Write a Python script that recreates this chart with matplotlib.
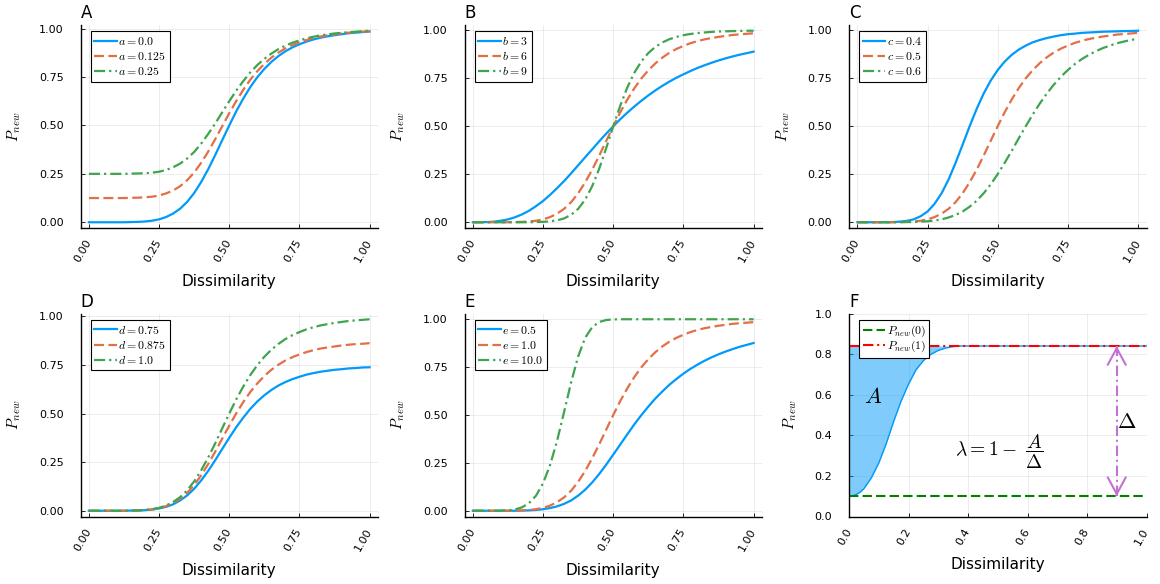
import numpy as np
import matplotlib
matplotlib.use('Agg')
import matplotlib.pyplot as plt

plt.rcParams['font.family'] = ['DejaVu Sans']
plt.rcParams['mathtext.fontset'] = 'cm'

# dissimilarity grid shared by panels A-E (step 0.025)
x_grid = np.linspace(0, 1, 41)

# the reference curve (a=0, b=6, c=0.5, d=1, e=1) appears in every panel A-E
base_curve = [0, 0, 0, 0, 0, 0, 0.001, 0.002, 0.004, 0.008, 0.015, 0.027, 0.045, 0.070, 0.105,
              0.151, 0.208, 0.274, 0.347, 0.424, 0.500, 0.573, 0.639, 0.698, 0.749, 0.792, 0.828,
              0.858, 0.883, 0.903, 0.919, 0.933, 0.944, 0.953, 0.960, 0.966, 0.971, 0.976, 0.979,
              0.982, 0.985]

a_0125 = [0.125, 0.125, 0.125, 0.125, 0.125, 0.125, 0.126, 0.127, 0.129, 0.132, 0.138, 0.149,
          0.164, 0.186, 0.217, 0.257, 0.307, 0.365, 0.429, 0.496, 0.563, 0.626, 0.684, 0.736,
          0.780, 0.818, 0.850, 0.876, 0.898, 0.915, 0.929, 0.941, 0.951, 0.959, 0.965, 0.970,
          0.975, 0.979, 0.982, 0.984, 0.987]
a_025 = [0.25, 0.25, 0.25, 0.25, 0.25, 0.25, 0.251, 0.252, 0.253, 0.256, 0.261, 0.270, 0.284,
         0.303, 0.329, 0.363, 0.406, 0.456, 0.510, 0.568, 0.625, 0.680, 0.729, 0.774, 0.812,
         0.844, 0.871, 0.894, 0.912, 0.927, 0.939, 0.950, 0.958, 0.965, 0.970, 0.975, 0.978,
         0.982, 0.984, 0.987, 0.989]

b_3 = [0, 0, 0.001, 0.003, 0.008, 0.015, 0.026, 0.041, 0.060, 0.084, 0.111, 0.143, 0.178, 0.215,
       0.255, 0.297, 0.339, 0.380, 0.422, 0.462, 0.500, 0.537, 0.571, 0.603, 0.633, 0.661, 0.687,
       0.711, 0.733, 0.753, 0.771, 0.788, 0.804, 0.818, 0.831, 0.843, 0.854, 0.864, 0.873,
       0.881, 0.889]
b_9 = [0, 0, 0, 0, 0, 0, 0, 0, 0, 0.001, 0.002, 0.005, 0.010, 0.020, 0.039, 0.070, 0.118, 0.188,
       0.279, 0.387, 0.500, 0.608, 0.702, 0.779, 0.838, 0.882, 0.914, 0.937, 0.954, 0.966,
       0.975, 0.981, 0.986, 0.989, 0.992, 0.994, 0.995, 0.996, 0.997, 0.998, 0.998]

c_04 = [0, 0, 0, 0, 0, 0.001, 0.003, 0.007, 0.015, 0.031, 0.056, 0.096, 0.151, 0.223, 0.310,
        0.404, 0.500, 0.590, 0.670, 0.737, 0.792, 0.836, 0.871, 0.898, 0.919, 0.936, 0.948,
        0.958, 0.966, 0.973, 0.978, 0.981, 0.985, 0.987, 0.989, 0.991, 0.992, 0.993, 0.994,
        0.995, 0.996]
c_06 = [0, 0, 0, 0, 0, 0, 0, 0.001, 0.001, 0.003, 0.005, 0.009, 0.015, 0.025, 0.038, 0.056,
        0.081, 0.112, 0.151, 0.197, 0.251, 0.310, 0.372, 0.437, 0.500, 0.561, 0.618, 0.670,
        0.716, 0.757, 0.792, 0.823, 0.849, 0.871, 0.890, 0.906, 0.919, 0.931, 0.940, 0.948,
        0.955]

d_075 = [0, 0, 0, 0, 0, 0, 0.001, 0.001, 0.003, 0.006, 0.012, 0.020, 0.033, 0.053, 0.079,
         0.113, 0.156, 0.205, 0.260, 0.318, 0.375, 0.430, 0.479, 0.524, 0.562, 0.594, 0.621,
         0.644, 0.662, 0.677, 0.689, 0.700, 0.708, 0.715, 0.720, 0.725, 0.728, 0.732, 0.734,
         0.737, 0.738]
d_0875 = [0, 0, 0, 0, 0, 0, 0.001, 0.002, 0.004, 0.007, 0.013, 0.024, 0.039, 0.061, 0.092,
          0.132, 0.182, 0.240, 0.304, 0.371, 0.438, 0.501, 0.559, 0.611, 0.655, 0.693, 0.725,
          0.751, 0.773, 0.790, 0.804, 0.816, 0.826, 0.834, 0.840, 0.845, 0.850, 0.854, 0.857,
          0.859, 0.862]

e_05 = [0, 0, 0, 0, 0, 0, 0, 0.001, 0.002, 0.004, 0.008, 0.014, 0.023, 0.036, 0.054, 0.079,
        0.110, 0.148, 0.192, 0.241, 0.293, 0.346, 0.399, 0.451, 0.499, 0.544, 0.586, 0.623,
        0.658, 0.688, 0.716, 0.741, 0.763, 0.783, 0.801, 0.817, 0.831, 0.844, 0.856, 0.866,
        0.876]
e_10 = [0, 0, 0, 0, 0.001, 0.002, 0.007, 0.018, 0.040, 0.079, 0.144, 0.239, 0.366, 0.517,
        0.671, 0.806, 0.903, 0.959, 0.986, 0.996, 0.999, 1, 1, 1, 1, 1, 1, 1, 1, 1, 1, 1, 1, 1,
        1, 1, 1, 1, 1, 1, 1]

# panel F
f_x = [0, 0.0125, 0.025, 0.0375, 0.05, 0.075, 0.1, 0.125, 0.15, 0.175, 0.2, 0.225, 0.25,
       0.275, 0.3, 0.325, 0.35, 0.375, 0.4, 1.0]
f_y = [0.100, 0.102, 0.109, 0.120, 0.137, 0.190, 0.263, 0.358, 0.468, 0.568, 0.652, 0.722,
       0.768, 0.799, 0.818, 0.830, 0.837, 0.840, 0.840, 0.840]
f_floor = 0.10
f_ceiling = 0.84
arrow_x = 0.9

ticks_ae = [0, 0.25, 0.5, 0.75, 1.0]
ticklabels_ae = ['0.00', '0.25', '0.50', '0.75', '1.00']
ticks_f = [0, 0.2, 0.4, 0.6, 0.8, 1.0]
ticklabels_f = ['0.0', '0.2', '0.4', '0.6', '0.8', '1.0']

panels = [
    ('A', [(base_curve, r'$a = 0.0$'), (a_0125, r'$a = 0.125$'), (a_025, r'$a = 0.25$')]),
    ('B', [(b_3, r'$b = 3$'), (base_curve, r'$b = 6$'), (b_9, r'$b = 9$')]),
    ('C', [(c_04, r'$c = 0.4$'), (base_curve, r'$c = 0.5$'), (c_06, r'$c = 0.6$')]),
    ('D', [(d_075, r'$d = 0.75$'), (d_0875, r'$d = 0.875$'), (base_curve, r'$d = 1.0$')]),
    ('E', [(e_05, r'$e = 0.5$'), (base_curve, r'$e = 1.0$'), (e_10, r'$e = 10.0$')]),
]

BLUE = '#009AFA'
ORANGE = '#E36F47'
GREEN = '#3EA44E'
PURPLE = '#C371D2'
line_styles = [
    dict(color=BLUE, ls='-'),
    dict(color=ORANGE, ls=(0, (4.5, 2))),
    dict(color=GREEN, ls=(0, (5, 1.8, 1, 1.8))),
]

W, H = 1160, 584
col_left = [80.5, 464.5, 849]
row_top = [25, 313.5]
ax_w, ax_h = 297.5, 203

fig = plt.figure(figsize=(W / 100, H / 100), dpi=100)


def make_axes(r, c):
    return fig.add_axes([col_left[c] / W, 1 - (row_top[r] + ax_h) / H, ax_w / W, ax_h / H])


def finish(ax, letter, ticks, labels, xlabel_y, ylabel_x):
    ax.spines[['top', 'right']].set_visible(False)
    for s in ('left', 'bottom'):
        ax.spines[s].set_linewidth(1.0)
    ax.set_xticks(ticks, labels, rotation=60, ha='right', va='center', rotation_mode='anchor')
    ax.set_yticks(ticks, labels)
    ax.tick_params(direction='in', length=3, width=0.6, labelsize=8)
    ax.tick_params(axis='x', pad=9)
    ax.tick_params(axis='y', pad=12)
    ax.grid(True, color='black', alpha=0.1, lw=0.5)
    ax.set_axisbelow(True)
    ax.set_xlabel('Dissimilarity', fontsize=11)
    ax.xaxis.set_label_coords(0.5, xlabel_y)
    ax.xaxis.label.set_va('center')
    ax.set_ylabel(r'$P_{new}$', fontsize=11)
    ax.yaxis.set_label_coords(ylabel_x, 0.5)
    ax.yaxis.label.set_va('center')
    ax.set_title(letter, loc='left', fontsize=12, pad=5)


def add_legend(ax, spacing, size):
    leg = ax.legend(loc='upper left', bbox_to_anchor=(0.034, 0.968), borderaxespad=0,
                    fontsize=size, frameon=True, fancybox=False, framealpha=1,
                    edgecolor='black', handlelength=1.9, handletextpad=0.15,
                    labelspacing=spacing, borderpad=0.3)
    leg.get_frame().set_linewidth(0.8)


for i, (letter, curves) in enumerate(panels):
    ax = make_axes(i // 3, i % 3)
    for (values, label), style in zip(curves, line_styles):
        ax.plot(x_grid, values, lw=1.6, label=label, **style)
    ax.margins(x=0.03, y=0.03)
    finish(ax, letter, ticks_ae, ticklabels_ae, -0.265, -0.222)
    add_legend(ax, 0.18, 8.5)

# panel F
axF = make_axes(1, 2)
axF.fill_between(f_x, f_y, f_ceiling, color=BLUE, alpha=0.5, lw=0)
axF.plot(f_x, f_y, color=BLUE, lw=1)
axF.axhline(f_floor, color='green', ls=(0, (4.5, 2)), lw=1.5, label=r'$P_{new}(0)$')
axF.axhline(f_ceiling, color='red', ls=(0, (5, 1.8, 1, 1.8)), lw=1.5,
            label=r'$P_{new}(1)$')
axF.plot([arrow_x, arrow_x], [f_floor, f_ceiling], color=PURPLE, lw=1.5,
         ls=(0, (5, 1.8, 1, 1.8)))
for tip, tail in ((f_ceiling, f_ceiling - 0.02), (f_floor, f_floor + 0.02)):
    axF.annotate('', xy=(arrow_x, tip), xytext=(arrow_x, tail),
                 arrowprops=dict(arrowstyle='->,head_length=1.2,head_width=0.65',
                                 color=PURPLE, lw=1.5, shrinkA=0, shrinkB=0))
axF.text(0.08, 0.59, r'$A$', fontsize=16, ha='center', va='center')
axF.text(0.935, 0.465, r'$\Delta$', fontsize=16, ha='center', va='center')
axF.text(0.507, 0.32, r'$\lambda = 1 - \ \dfrac{A}{\Delta}$', fontsize=14,
         ha='center', va='center')
axF.set_xlim(0, 1)
axF.set_ylim(0, 1)
finish(axF, 'F', ticks_f, ticklabels_f, -0.235, -0.196)
add_legend(axF, 0.0, 8.5)

fig.savefig('out.png', dpi=100, facecolor='white')
